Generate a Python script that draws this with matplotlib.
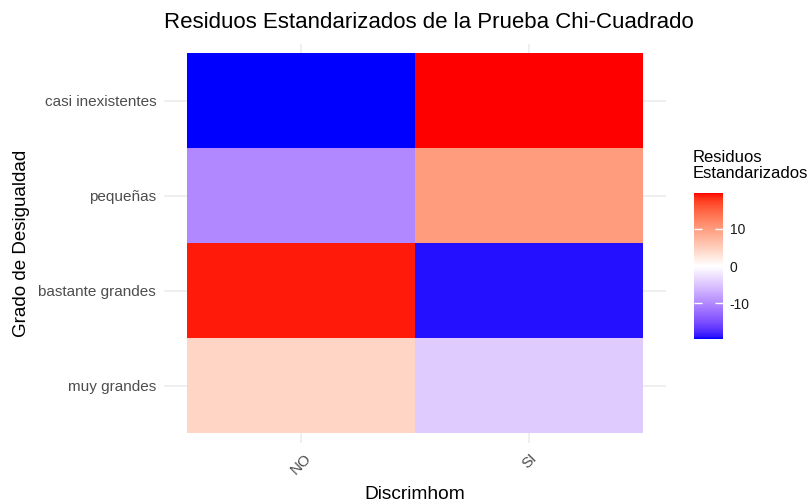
import numpy as np
import matplotlib
matplotlib.use("Agg")
import matplotlib.pyplot as plt
from matplotlib.colors import ListedColormap, Normalize

plt.rcParams['font.family'] = ['Liberation Sans', 'DejaVu Sans']
plt.rcParams['axes.unicode_minus'] = False

# data: standardized residuals, rows top to bottom
grados = ["casi inexistentes", "pequeñas", "bastante grandes", "muy grandes"]
discrim = ["NO", "SI"]
res_no = [-19.6, -10.0, 19.1, 4.3]
res_si = [19.6, 10.0, -19.1, -4.3]
cbar_ticks = [-10, 0, 10]


# ggplot-like gradient2 (blue - white - red), interpolated in Lab space
def srgb_to_lab(rgb):
    rgb = np.asarray(rgb, dtype=float)
    lin = np.where(rgb <= 0.04045, rgb / 12.92, ((rgb + 0.055) / 1.055) ** 2.4)
    M = np.array([[0.4124, 0.3576, 0.1805],
                  [0.2126, 0.7152, 0.0722],
                  [0.0193, 0.1192, 0.9505]])
    xyz = lin @ M.T / np.array([0.95047, 1.0, 1.08883])
    f = np.where(xyz > 0.008856, np.cbrt(xyz), 7.787 * xyz + 16 / 116)
    L = 116 * f[..., 1] - 16
    a = 500 * (f[..., 0] - f[..., 1])
    b = 200 * (f[..., 1] - f[..., 2])
    return np.stack([L, a, b], axis=-1)


def lab_to_srgb(lab):
    L, a, b = lab[..., 0], lab[..., 1], lab[..., 2]
    fy = (L + 16) / 116
    fx = fy + a / 500
    fz = fy - b / 200
    f = np.stack([fx, fy, fz], axis=-1)
    xyz = np.where(f ** 3 > 0.008856, f ** 3, (f - 16 / 116) / 7.787)
    xyz = xyz * np.array([0.95047, 1.0, 1.08883])
    Minv = np.array([[3.2406, -1.5372, -0.4986],
                     [-0.9689, 1.8758, 0.0415],
                     [0.0557, -0.2040, 1.0570]])
    lin = xyz @ Minv.T
    lin = np.clip(lin, 0, 1)
    rgb = np.where(lin <= 0.0031308, lin * 12.92, 1.055 * lin ** (1 / 2.4) - 0.055)
    return np.clip(rgb, 0, 1)


lab_blue = srgb_to_lab([0, 0, 1])
lab_white = srgb_to_lab([1, 1, 1])
lab_red = srgb_to_lab([1, 0, 0])
t = np.linspace(0, 1, 128)[:, None]
low = lab_blue * (1 - t) + lab_white * t
high = lab_white * (1 - t) + lab_red * t
cmap = ListedColormap(lab_to_srgb(np.vstack([low, high])))

values = np.array([res_no, res_si]).T
lim = np.abs(values).max()
norm = Normalize(-lim, lim)

fig = plt.figure(figsize=(8.09, 5.03), dpi=100)
ax = fig.add_axes([0.2033, 0.1197, 0.6199, 0.7932])

ax.pcolormesh(np.arange(len(discrim) + 1) + 0.5, np.arange(len(grados) + 1) + 0.5,
              values, cmap=cmap, norm=norm)
ax.set_xlim(0.4, len(discrim) + 0.6)
ax.set_ylim(len(grados) + 0.6, 0.4)
ax.set_xticks(np.arange(1, len(discrim) + 1))
ax.set_xticklabels(discrim, rotation=45)
ax.set_yticks(np.arange(1, len(grados) + 1))
ax.set_yticklabels(grados)
ax.tick_params(length=0, labelsize=11, labelcolor='#4d4d4d', pad=6)
ax.set_axisbelow(True)
ax.grid(color='#ebebeb', linewidth=1.1)
for s in ax.spines.values():
    s.set_visible(False)

ax.set_xlabel("Discrimhom", fontsize=13.8, color='black', labelpad=6)
ax.set_ylabel("Grado de Desigualdad", fontsize=13.5, color='black', labelpad=6)
fig.text(0.53, 0.955, "Residuos Estandarizados de la Prueba Chi-Cuadrado",
         ha='center', va='center', fontsize=16)

cax = fig.add_axes([0.8578, 0.326, 0.0358, 0.2897])
sm = plt.cm.ScalarMappable(norm=norm, cmap=cmap)
cb = fig.colorbar(sm, cax=cax, ticks=cbar_ticks)
cb.outline.set_visible(False)
cax.tick_params(direction='in', length=6, color='white', width=1,
                labelsize=10, labelcolor='#1a1a1a', pad=5, left=True)
fig.text(0.856, 0.64, "Residuos\nEstandarizados", ha='left', va='bottom',
         fontsize=12, linespacing=1.1)

fig.savefig("out.png", dpi=100)
